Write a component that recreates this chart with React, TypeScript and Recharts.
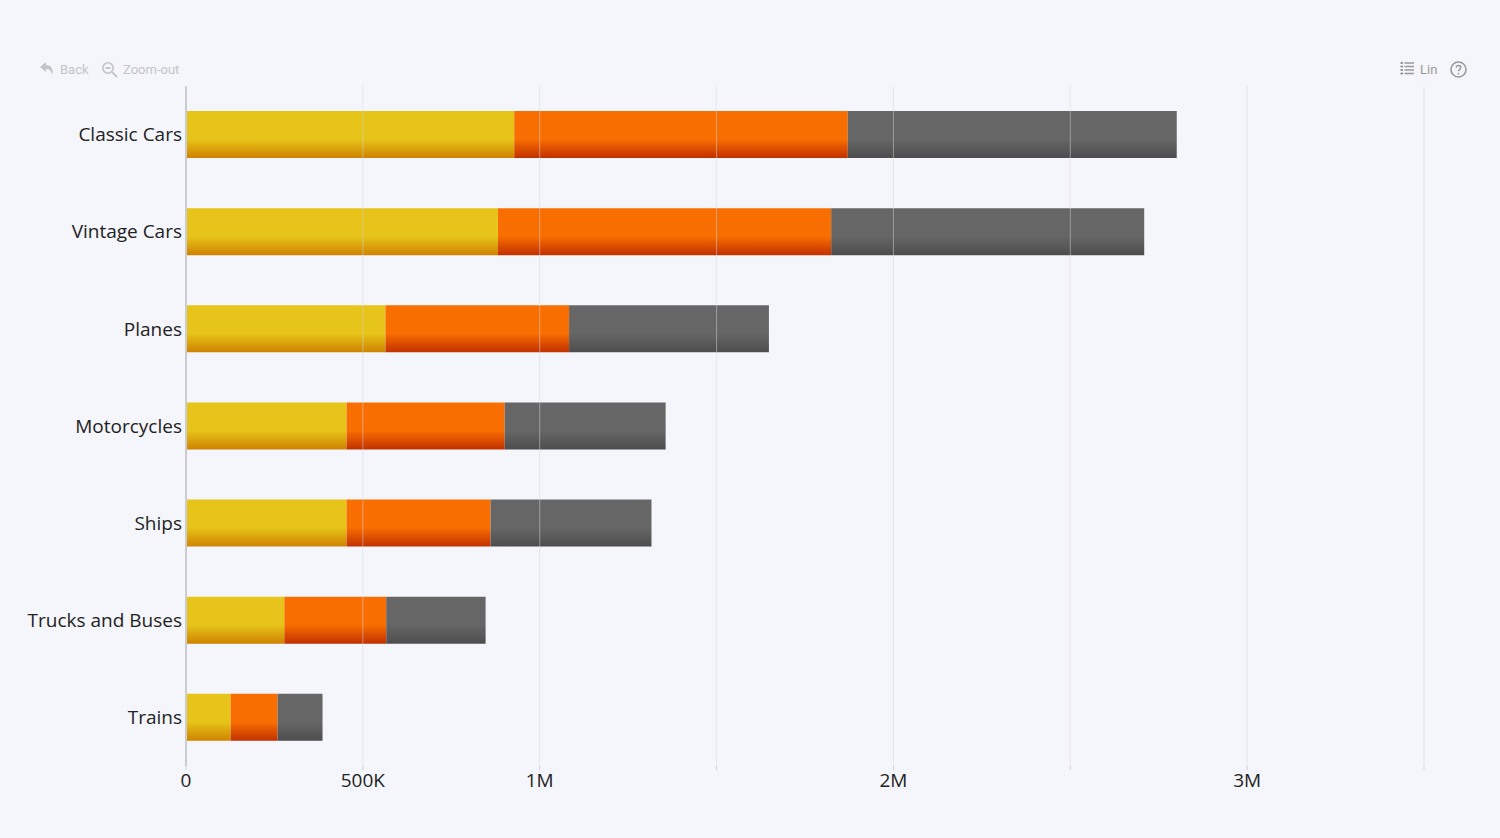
import { BarChart, Bar, XAxis, YAxis, CartesianGrid } from 'recharts';

const categories = ['Classic Cars', 'Vintage Cars', 'Planes', 'Motorcycles', 'Ships', 'Trucks and Buses', 'Trains'];
const yellowValues = [928000, 882000, 564000, 454000, 454000, 278000, 126000];
const orangeValues = [943000, 942000, 519000, 447000, 407000, 288000, 133000];
const greyValues = [930000, 885000, 565000, 455000, 455000, 281000, 127000];
const xTicks = [0, 500000, 1000000, 1500000, 2000000, 2500000, 3000000, 3500000];
const xTickLabels = ['0', '500K', '1M', '', '2M', '', '3M', ''];

const data = categories.map((name, i) => ({
  name,
  yellow: yellowValues[i],
  orange: orangeValues[i],
  grey: greyValues[i],
}));

const BG = '#f5f6fb';
const FONT = '"Open Sans", "Noto Sans", sans-serif';

function Gradient({ id, top, bottom }: { id: string; top: string; bottom: string }) {
  return (
    <linearGradient id={id} x1="0" y1="0" x2="0" y2="1">
      <stop offset="0.6" stopColor={top} />
      <stop offset="1" stopColor={bottom} />
    </linearGradient>
  );
}

function Toolbar() {
  const text = { position: 'absolute', top: 62, fontFamily: 'Roboto, sans-serif', fontSize: 13, color: '#c4c4c8', lineHeight: '15px' } as const;
  return (
    <>
      <svg style={{ position: 'absolute', left: 39, top: 60 }} width="16" height="17" viewBox="0 0 16 17">
        <path d="M7 2 L1 7 L7 12 V9 C10 9 12 10 13 15 C15 9 12 5 7 5 Z" fill="#c4c4c8" />
      </svg>
      <span style={{ ...text, left: 60 }}>Back</span>
      <svg style={{ position: 'absolute', left: 101, top: 61 }} width="17" height="17" viewBox="0 0 17 17">
        <circle cx="7" cy="7" r="5.2" fill="none" stroke="#c4c4c8" strokeWidth="1.6" />
        <path d="M4.5 7 H9.5 M11 11 L16 16" stroke="#c4c4c8" strokeWidth="1.8" fill="none" />
      </svg>
      <span style={{ ...text, left: 123 }}>Zoom-out</span>
      <svg style={{ position: 'absolute', left: 1400, top: 61 }} width="15" height="16" viewBox="0 0 15 16">
        <path d="M0.5 2 H3 M0.5 5.5 H3 M0.5 9 H3 M0.5 12.5 H3" stroke="#777" strokeWidth="1.6" fill="none" />
        <path d="M4.5 2 H14 M4.5 5.5 H14 M4.5 9 H14 M4.5 12.5 H14" stroke="#999" strokeWidth="1.3" fill="none" />
      </svg>
      <span style={{ ...text, left: 1420, color: '#999' }}>Lin</span>
      <svg style={{ position: 'absolute', left: 1449, top: 60 }} width="19" height="19" viewBox="0 0 19 19">
        <circle cx="9.5" cy="9.5" r="7.5" fill="none" stroke="#999" strokeWidth="1.6" />
        <path d="M7.3 7.6 C7.3 4.9 11.8 4.9 11.8 7.6 C11.8 9.3 9.5 9.3 9.5 11.2" fill="none" stroke="#999" strokeWidth="1.5" />
        <circle cx="9.5" cy="13.6" r="0.9" fill="#999" />
      </svg>
    </>
  );
}

export default function App() {
  return (
    <div style={{ position: 'fixed', left: 0, top: 0, width: 1500, height: 838, background: BG, overflow: 'hidden' }}>
      <Toolbar />
      <BarChart
        width={1500}
        height={838}
        layout="vertical"
        data={data}
        barCategoryGap={25}
        margin={{ top: 86, right: 76, bottom: 0, left: 0 }}
        style={{ fontFamily: FONT }}
      >
        <defs>
          <Gradient id="yellowFill" top="#e6c419" bottom="#cf8200" />
          <Gradient id="orangeFill" top="#f86e00" bottom="#c23000" />
          <Gradient id="greyFill" top="#666666" bottom="#4d4d4d" />
        </defs>
        <XAxis
          type="number"
          domain={[0, 3500000]}
          ticks={xTicks}
          interval={0}
          height={72}
          axisLine={false}
          tickLine={{ stroke: '#cfcfd2' }}
          tickSize={4}
          tickMargin={4}
          tickFormatter={(v: number) => xTickLabels[xTicks.indexOf(v)]}
          tick={{ fontSize: 19, fill: '#222' }}
        />
        <YAxis
          type="category"
          dataKey="name"
          width={186}
          interval={0}
          axisLine={{ stroke: '#c8c8cc', strokeWidth: 2 }}
          tickLine={false}
          tickMargin={4}
          tickSize={0}
          tick={{ fontSize: 19, fill: '#222' }}
        />
        <Bar dataKey="yellow" stackId="a" fill="url(#yellowFill)" isAnimationActive={false} />
        <Bar dataKey="orange" stackId="a" fill="url(#orangeFill)" isAnimationActive={false} />
        <Bar dataKey="grey" stackId="a" fill="url(#greyFill)" isAnimationActive={false} />
        <CartesianGrid horizontal={false} stroke="#d8d8dc" strokeOpacity={0.5} zIndex={500} />
      </BarChart>
    </div>
  );
}
